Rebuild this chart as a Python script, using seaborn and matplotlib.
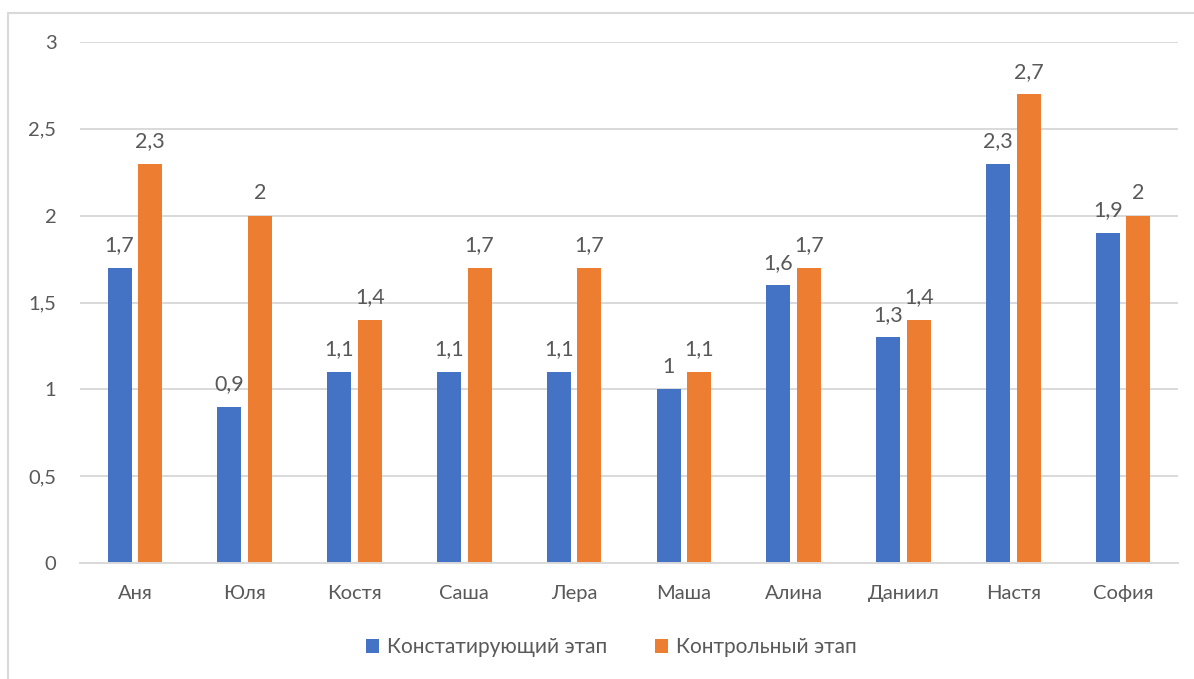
import matplotlib
matplotlib.use("Agg")
import matplotlib.pyplot as plt
from matplotlib.patches import Rectangle
import pandas as pd
import seaborn as sns

# Data
names = ["Аня", "Юля", "Костя", "Саша", "Лера", "Маша", "Алина", "Даниил", "Настя", "София"]
stage_labels = ["Констатирующий этап", "Контрольный этап"]
baseline_scores = [1.7, 0.9, 1.1, 1.1, 1.1, 1.0, 1.6, 1.3, 2.3, 1.9]
control_scores = [2.3, 2.0, 1.4, 1.7, 1.7, 1.1, 1.7, 1.4, 2.7, 2.0]
y_ticks = [0, 0.5, 1, 1.5, 2, 2.5, 3]

BLUE = "#4472C4"
ORANGE = "#ED7D31"
TEXT = "#595959"
GRID = "#D9D9D9"

df = pd.DataFrame({
    "name": names * 2,
    "stage": [stage_labels[0]] * len(names) + [stage_labels[1]] * len(names),
    "value": baseline_scores + control_scores,
})


def fmt(v):
    return f"{v:g}".replace(".", ",")


sns.set_theme(style="white")
plt.rcParams["font.family"] = ["Lato", "DejaVu Sans"]

W, H = 1194, 679
fig = plt.figure(figsize=(W / 100, H / 100), dpi=100)
ax = fig.add_axes([80 / W, 1 - 563 / H, (1178 - 80) / W, (563 - 42) / H])

sns.barplot(
    data=df, x="name", y="value", hue="stage",
    order=names, hue_order=stage_labels,
    palette=[BLUE, ORANGE], saturation=1,
    width=0.557, gap=0.215, ax=ax, legend=True, linewidth=0,
)

ax.set_xlim(-0.5, len(names) - 0.5)
ax.set_ylim(0, 3)
ax.set_yticks(y_ticks)
ax.set_yticklabels([fmt(v) for v in y_ticks])
ax.set_xlabel("")
ax.set_ylabel("")
ax.yaxis.grid(True, color=GRID, linewidth=1.4)
ax.set_axisbelow(True)
for side in ["left", "right", "top"]:
    ax.spines[side].set_visible(False)
ax.spines["bottom"].set_color(GRID)
ax.spines["bottom"].set_linewidth(1.4)
ax.tick_params(axis="y", length=0, pad=17, labelsize=14.5, labelcolor=TEXT)
ax.tick_params(axis="x", length=0, pad=16, labelsize=14.5, labelcolor=TEXT)

for container in ax.containers:
    ax.bar_label(container, labels=[fmt(v) for v in container.datavalues],
                 padding=9, fontsize=15.5, color=TEXT)

handles, labels = ax.get_legend_handles_labels()
ax.legend_.remove()
fig.legend(handles, labels, loc="center", bbox_to_anchor=(611 / W, 1 - 647 / H),
           ncol=2, frameon=False, handlelength=0.65, handleheight=0.65,
           handletextpad=0.35, columnspacing=2.3, fontsize=15, labelcolor=TEXT)

# chart area frame
fig.add_artist(Rectangle((8 / W, -0.1), 1.2, (1 - 13 / H) + 0.1,
                         transform=fig.transFigure, fill=False,
                         edgecolor=GRID, linewidth=1.5))

fig.savefig("out.png", dpi=100)
